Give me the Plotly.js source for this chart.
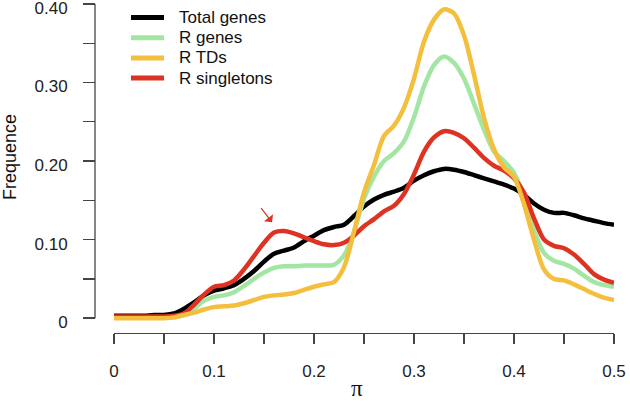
<!DOCTYPE html>
<html>
<head>
<meta charset="utf-8">
<script src="https://cdn.plot.ly/plotly-3.0.1.min.js"></script>
<style>
  body { margin: 0; background: #fff; }
  #chart { width: 630px; height: 403px; }
</style>
</head>
<body>
<div id="chart"></div>
<script>
// pi values (density grid)
var piVals = [0, 0.01, 0.02, 0.03, 0.04, 0.05, 0.06, 0.07, 0.08, 0.09,
              0.10, 0.11, 0.12, 0.13, 0.14, 0.15, 0.16, 0.17, 0.18, 0.19,
              0.20, 0.21, 0.22, 0.23, 0.24, 0.25, 0.26, 0.27, 0.28, 0.29,
              0.30, 0.31, 0.32, 0.33, 0.34, 0.35, 0.36, 0.37, 0.38, 0.39,
              0.40, 0.41, 0.42, 0.43, 0.44, 0.45, 0.46, 0.47, 0.48, 0.49, 0.50];

var totalGenes = [0.003, 0.003, 0.003, 0.003, 0.004, 0.004, 0.006, 0.012, 0.020, 0.029,
                  0.035, 0.038, 0.042, 0.050, 0.060, 0.072, 0.082, 0.086, 0.090, 0.098,
                  0.105, 0.112, 0.116, 0.119, 0.130, 0.142, 0.151, 0.157, 0.161, 0.166,
                  0.175, 0.182, 0.187, 0.190, 0.189, 0.186, 0.182, 0.178, 0.174, 0.170,
                  0.165, 0.157, 0.146, 0.138, 0.134, 0.134, 0.131, 0.127, 0.124, 0.121, 0.119];

var rGenes = [0.001, 0.001, 0.001, 0.001, 0.001, 0.001, 0.001, 0.004, 0.012, 0.022,
              0.027, 0.029, 0.033, 0.041, 0.050, 0.058, 0.064, 0.066, 0.066, 0.067,
              0.067, 0.067, 0.068, 0.080, 0.110, 0.152, 0.180, 0.200, 0.210, 0.225,
              0.256, 0.295, 0.322, 0.333, 0.325, 0.305, 0.273, 0.240, 0.212, 0.200,
              0.185, 0.155, 0.112, 0.083, 0.073, 0.069, 0.063, 0.054, 0.046, 0.042, 0.040];

var rTDs = [0.000, 0.000, 0.000, 0.000, 0.000, 0.000, 0.001, 0.004, 0.007, 0.011,
            0.014, 0.015, 0.016, 0.019, 0.023, 0.027, 0.029, 0.030, 0.032, 0.036,
            0.040, 0.043, 0.046, 0.065, 0.110, 0.160, 0.195, 0.232, 0.245, 0.268,
            0.305, 0.352, 0.380, 0.393, 0.388, 0.360, 0.310, 0.255, 0.215, 0.192,
            0.180, 0.145, 0.100, 0.062, 0.050, 0.048, 0.043, 0.037, 0.031, 0.026, 0.023];

var rSingletons = [0.002, 0.002, 0.002, 0.002, 0.002, 0.002, 0.003, 0.006, 0.017, 0.030,
                   0.040, 0.042, 0.048, 0.062, 0.079, 0.096, 0.109, 0.111, 0.108, 0.103,
                   0.098, 0.094, 0.093, 0.096, 0.105, 0.117, 0.126, 0.136, 0.143, 0.158,
                   0.183, 0.212, 0.230, 0.238, 0.236, 0.229, 0.217, 0.204, 0.194, 0.188,
                   0.178, 0.160, 0.127, 0.100, 0.092, 0.089, 0.081, 0.069, 0.056, 0.049, 0.045];

var seriesNames = ['Total genes', 'R genes', 'R TDs', 'R singletons'];
var seriesColors = ['#000000', '#a3e6a3', '#f3bf3c', '#de3222'];

var xTickVals = [0, 0.05, 0.1, 0.15, 0.2, 0.25, 0.3, 0.35, 0.4, 0.45, 0.5];
var xTickText = ['0', '', '0.1', '', '0.2', '', '0.3', '', '0.4', '', '0.5'];
var yTickVals = [0, 0.05, 0.1, 0.15, 0.2, 0.25, 0.3, 0.35, 0.4];
var yTickText = ['0', '', '0.10', '', '0.20', '', '0.30', '', '0.40'];

var FONT = 'Liberation Sans, Arial, Helvetica, sans-serif';

// paper geometry helpers (paper spans px 95..614 horizontally, 0..333 vertically)
var W = 630, H = 403, ML = 95, MR = 16, MT = 0, MB = 70;
function px2x(px) { return (px - ML) / (W - ML - MR); }
function px2y(py) { return (H - MB - py) / (H - MT - MB); }

// draw order: black, green, red, yellow
var order = [0, 1, 3, 2];
var values = [totalGenes, rGenes, rTDs, rSingletons];

var data = order.map(function(i) {
    return {
        x: piVals,
        y: values[i],
        type: 'scatter',
        mode: 'lines',
        name: seriesNames[i],
        line: { color: seriesColors[i], width: 4.5, shape: 'spline', smoothing: 0.8 },
        hoverinfo: 'skip'
    };
});

// hand drawn legend, like R's legend()
var shapes = [];
var annotations = [];
_legend();

function _legend() {
    for (var i = 0; i < seriesNames.length; i++) {
        var py = 17.5 + i * 20.2;
        shapes.push({
            type: 'line', xref: 'paper', yref: 'paper',
            x0: px2x(131), x1: px2x(164), y0: px2y(py), y1: px2y(py),
            line: { color: seriesColors[i], width: 5 }
        });
        annotations.push({
            xref: 'paper', yref: 'paper', x: px2x(177), y: px2y(py),
            xanchor: 'left', yanchor: 'middle', showarrow: false,
            text: seriesNames[i], font: { family: FONT, size: 17, color: '#111' }
        });
    }
}

// y axis line from 0 to 0.4
shapes.push({
    type: 'line', xref: 'paper', yref: 'y', x0: 0, x1: 0, y0: 0, y1: 0.4,
    line: { color: '#444', width: 1.3 }
});

// axis titles
annotations.push({
    xref: 'paper', yref: 'paper', x: px2x(10), y: px2y(157),
    xanchor: 'center', yanchor: 'middle', textangle: -90, showarrow: false,
    text: 'Frequence', font: { family: FONT, size: 18, color: '#111' }
});
annotations.push({
    xref: 'paper', yref: 'paper', x: px2x(357), y: px2y(388),
    xanchor: 'center', yanchor: 'middle', showarrow: false,
    text: 'π', font: { family: 'Liberation Serif, DejaVu Serif, serif', size: 23, color: '#111' }
});

// arrow pointing at the R singletons bump
annotations.push({
    x: 0.158, y: 0.122, xref: 'x', yref: 'y',
    ax: 0.146, ay: 0.142, axref: 'x', ayref: 'y',
    text: '', showarrow: true, arrowhead: 1, arrowsize: 1.6,
    arrowwidth: 1.2, arrowcolor: '#de3222'
});

var layout = {
    width: W,
    height: H,
    margin: { l: ML, r: MR, t: MT, b: MB },
    paper_bgcolor: '#fff',
    plot_bgcolor: '#fff',
    showlegend: false,
    font: { family: FONT, size: 17, color: '#222' },
    xaxis: {
        range: [0, 0.5],
        domain: [px2x(114), 1],
        anchor: 'free',
        position: 0,
        showgrid: false,
        zeroline: false,
        showline: true,
        linecolor: '#444',
        linewidth: 1.3,
        ticks: 'outside',
        ticklen: 10,
        tickwidth: 1.3,
        tickcolor: '#444',
        tickmode: 'array',
        tickvals: xTickVals,
        ticktext: xTickText,
        ticklabelstandoff: 12,
        ticklabeloverflow: 'allow',
        tickfont: { family: FONT, size: 17, color: '#222' }
    },
    yaxis: {
        range: [-0.01, 0.405],
        domain: [px2y(326), 1],
        anchor: 'free',
        position: 0,
        showgrid: false,
        zeroline: false,
        showline: false,
        ticks: 'outside',
        ticklen: 12,
        tickwidth: 1.3,
        tickcolor: '#444',
        tickmode: 'array',
        tickvals: yTickVals,
        ticktext: yTickText,
        ticklabelstandoff: 12,
        ticklabelshift: 4,
        ticklabeloverflow: 'allow',
        tickfont: { family: FONT, size: 17, color: '#222' }
    },
    shapes: shapes,
    annotations: annotations
};

Plotly.newPlot('chart', data, layout, { displayModeBar: false, staticPlot: true });
</script>
</body>
</html>
